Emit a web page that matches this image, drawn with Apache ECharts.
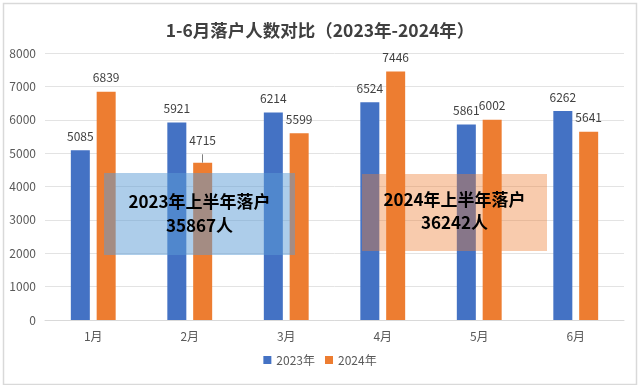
<!DOCTYPE html>
<html><head><meta charset="utf-8">
<script src="https://cdn.jsdelivr.net/npm/echarts@6/dist/echarts.min.js"></script>
<style>html,body{margin:0;padding:0;background:#fff}#c{width:640px;height:385px}</style>
</head><body><div id="c"></div>
<script>
const categories = ['1月','2月','3月','4月','5月','6月'];
const seriesNames = ['2023年','2024年'];
const values2023 = [5085, 5921, 6214, 6524, 5861, 6262];
const values2024 = [6839, 4715, 5599, 7446, 6002, 5641];
const yTicks = [0, 1000, 2000, 3000, 4000, 5000, 6000, 7000, 8000];
const titleText = '1-6月落户人数对比（2023年-2024年）';
const note1 = ['2023年上半年落户', '35867人'];
const note2 = ['2024年上半年落户', '36242人'];

const FONT = '"Noto Sans CJK SC", "Noto Sans", sans-serif';
const chart = echarts.init(document.getElementById('c'));
const lbl = {show: true, position: 'top', distance: 8, color: '#404040', fontSize: 12, fontFamily: FONT};
chart.setOption({
  animation: false,
  backgroundColor: '#fff',
  title: {text: titleText, left: 'center', top: 17, textStyle: {fontFamily: FONT, fontWeight: 'bold', fontSize: 17.5, color: '#404040'}},
  grid: {left: 45, right: 16, top: 53, bottom: 65, containLabel: false},
  legend: {bottom: 14, left: 'center', itemWidth: 8, itemHeight: 8, itemGap: 10, icon: 'rect',
    textStyle: {fontFamily: FONT, fontSize: 12, color: '#595959'}, data: seriesNames},
  xAxis: {type: 'category', data: categories,
    axisLine: {lineStyle: {color: '#d9d9d9'}}, axisTick: {show: false},
    axisLabel: {color: '#595959', fontSize: 12, fontFamily: FONT, margin: 10}},
  yAxis: {type: 'value', min: yTicks[0], max: yTicks[yTicks.length-1], interval: 1000,
    axisLabel: {color: '#595959', fontSize: 12, fontFamily: FONT, margin: 9, formatter: v => String(v)},
    splitLine: {lineStyle: {color: '#e3e3e3'}}, axisLine: {show: false}},
  series: [
    {name: seriesNames[0], type: 'bar', data: values2023, barWidth: 19, barGap: '36%',
      itemStyle: {color: '#4472C4'}, label: lbl},
    {name: seriesNames[1], type: 'bar', data: values2024.map((v, i) => i === 1 ? {value: v,
        label: {distance: 16}} : v),
      barWidth: 19, itemStyle: {color: '#ED7D31'}, label: lbl,
      markLine: {silent: true, symbol: 'none', label: {show: false},
        lineStyle: {color: '#7f7f7f', width: 1, type: 'solid'},
        data: [[{xAxis: categories[1], yAxis: values2024[1]}, {xAxis: categories[1], yAxis: values2024[1] + 250}]]}}
  ],
  graphic: [
    {type: 'rect', left: 1, top: 1, shape: {width: 633, height: 381}, style: {fill: 'none', stroke: '#d9d9d9', lineWidth: 1.5}, z: 100},
    {type: 'rect', left: 104, top: 173, shape: {width: 191, height: 82}, style: {fill: 'rgba(91,155,213,0.5)'}, z: 50},
    {type: 'rect', left: 362, top: 174, shape: {width: 185, height: 77}, style: {fill: 'rgba(237,125,49,0.4)'}, z: 50},
    {type: 'text', z: 60, x: 199.5, y: 214, style: {text: note1.join('\n'), fill: '#000', font: 'bold 17px "Noto Sans CJK SC", sans-serif', textAlign: 'center', textVerticalAlign: 'middle', lineHeight: 24}},
    {type: 'text', z: 60, x: 454.5, y: 211, style: {text: note2.join('\n'), fill: '#000', font: 'bold 17px "Noto Sans CJK SC", sans-serif', textAlign: 'center', textVerticalAlign: 'middle', lineHeight: 23}}
  ]
});
</script></body></html>
